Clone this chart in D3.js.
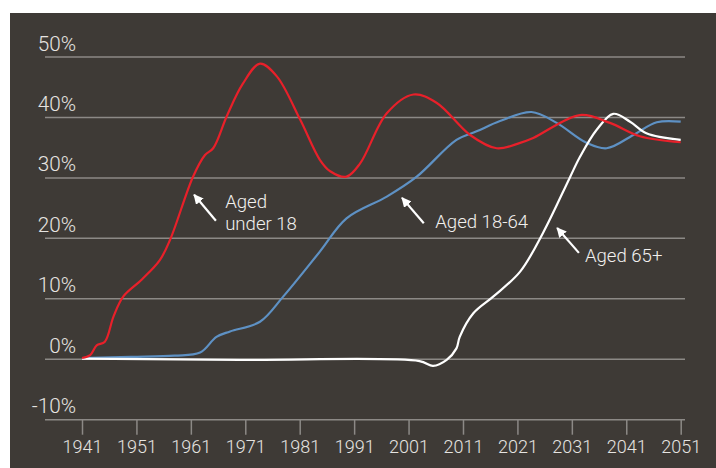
<!DOCTYPE html>
<html><head><meta charset="utf-8">
<script src="https://cdn.jsdelivr.net/npm/d3@7"></script>
<style>
html,body{margin:0;padding:0;background:#fff;}
svg{display:block;}
text{font-family:Roboto,"Liberation Sans",sans-serif;font-weight:300;}
</style></head>
<body><svg id="c" width="716" height="468"></svg>
<script>
const yTicks = [-10, 0, 10, 20, 30, 40, 50];
const xTicks = [1941, 1951, 1961, 1971, 1981, 1991, 2001, 2011, 2021, 2031, 2041, 2051];

const under18 = [[1941,0.2],[1942.5,0.7],[1943.7,2.3],[1945.2,2.9],[1946.8,7.1],[1948.6,10.4],[1952,13.2],[1955.3,16.4],[1957.2,19.8],[1961.4,30.2],[1963.6,33.8],[1965.1,34.9],[1967.6,40.2],[1970.5,45.5],[1973.7,48.9],[1976.8,46.8],[1981.1,39.6],[1984.7,33],[1986.6,31.1],[1989.6,30.2],[1992.1,32.4],[1997,40.7],[2001.9,43.8],[2006.2,42.4],[2012.3,37.1],[2017.2,34.9],[2021.5,35.8],[2023.9,36.6],[2032.5,40.4],[2038,39.1],[2043.5,36.9],[2051,35.9]];
const aged18to64 = [[1941,0.2],[1950,0.4],[1958,0.6],[1962.7,1.1],[1965.7,3.7],[1968.2,4.6],[1973.7,6.2],[1978,10.4],[1984.7,17.8],[1989.6,23.3],[1997,26.9],[2002.5,30.2],[2009.8,36.3],[2013.5,37.7],[2017.8,39.4],[2023.6,40.9],[2028.2,39.1],[2033.7,35.8],[2037.4,34.9],[2042.3,37.1],[2046.6,39.2],[2051,39.3]];
const aged65plus = [[1941,0.1],[1970,-0.1],[2003,-0.3],[2005.5,-1.1],[2008,-0.1],[2009.8,1.8],[2010.4,3.7],[2012.9,7.6],[2016.6,10.4],[2021.5,14.5],[2025.7,20.9],[2030.6,30.0],[2032.5,33.5],[2035.6,38.0],[2038.6,40.6],[2041.7,39.3],[2044.7,37.4],[2051,36.3]];

const series = [
  {name:"Aged 18-64", data:aged18to64, color:"#5e91c4"},
  {name:"Aged 65+", data:aged65plus, color:"#ffffff"},
  {name:"Aged under 18", data:under18, color:"#e8202a"}
];
const labels = [
  {lines:["Aged","under 18"], year:1967.3, v:25.0, tip:[1961.6,27.2], from:[1965.6,22.9]},
  {lines:["Aged 18-64"], year:2005.9, v:21.7, tip:[1999.8,26.7], from:[2003.8,22.5]},
  {lines:["Aged 65+"], year:2033.4, v:16.1, tip:[2028.3,21.7], from:[2032.3,17.6]}
];

const svg = d3.select("#c");
svg.append("rect").attr("x",10).attr("y",13).attr("width",706).attr("height",455).attr("fill","#3e3a36");

// font size calibration
const probe = svg.append("text").attr("font-size",20).text("1941");
const w1941 = probe.node().getComputedTextLength();
probe.text("Aged 18-64");
const wLabel = probe.node().getComputedTextLength();
probe.text("50%");
const wPct = probe.node().getComputedTextLength();
probe.remove();
const tickFS = 20 * 40 / w1941;
const annFS = 20 * 93 / wLabel;
const yFS = Math.min(20 * 40 / wPct, tickFS * 1.15);

const x = d3.scaleLinear().domain([1941, 2051]).range([82, 680.7]);
const y = d3.scaleLinear().domain([-10, 50]).range([419.7, 57]);
const gridX0 = 45, gridX1 = 685;

const defs = svg.append("defs");
defs.append("marker").attr("id","ah").attr("viewBox","0 0 10 10").attr("refX",9).attr("refY",5)
  .attr("markerWidth",4.5).attr("markerHeight",4.5).attr("markerUnits","strokeWidth").attr("orient","auto")
  .append("path").attr("d","M0,0 L10,5 L0,10 Z").attr("fill","#fff");

// grid lines
svg.append("g").selectAll("line").data(yTicks).join("line")
  .attr("x1",gridX0).attr("x2",gridX1)
  .attr("y1",d=>y(d)).attr("y2",d=>y(d))
  .attr("stroke","#8c8986").attr("stroke-width",1.5);
svg.append("g").selectAll("text").data(yTicks).join("text")
  .attr("x",76).attr("y",d=>y(d)-6.5).attr("text-anchor","end")
  .attr("fill","#e6e4e1").attr("font-size",yFS).text(d=>d+"%");

// x axis
const xAxis = d3.axisBottom(x).tickValues(xTicks).tickFormat(d3.format("d")).tickSize(15).tickPadding(4);
const gx = svg.append("g").attr("transform",`translate(0,${y(-10)})`).call(xAxis);
gx.attr("font-size",null).attr("font-family",null);
gx.select(".domain").remove();
gx.selectAll(".tick line").attr("stroke","#8c8986").attr("stroke-width",1.5);
gx.selectAll(".tick text").attr("fill","#e6e4e1").attr("font-size",tickFS).attr("dy",null).attr("y",33.5);

// lines
const line = d3.line().x(d=>x(d[0])).y(d=>y(d[1])).curve(d3.curveCatmullRom.alpha(0.5));
svg.append("g").selectAll("path").data(series).join("path")
  .attr("d",d=>line(d.data)).attr("fill","none")
  .attr("stroke",d=>d.color).attr("stroke-width",2.2).attr("stroke-linejoin","round");

// annotations
labels.forEach(l=>{
  svg.append("line").attr("x1",x(l.from[0])).attr("y1",y(l.from[1]))
    .attr("x2",x(l.tip[0])).attr("y2",y(l.tip[1]))
    .attr("stroke","#fff").attr("stroke-width",2.2).attr("marker-end","url(#ah)");
  const t = svg.append("text").attr("fill","#f2f0ee").attr("font-size",annFS);
  l.lines.forEach((s,i)=>{
    t.append("tspan").attr("x",x(l.year)).attr("y",y(l.v)+i*22).text(s);
  });
});
</script></body></html>
